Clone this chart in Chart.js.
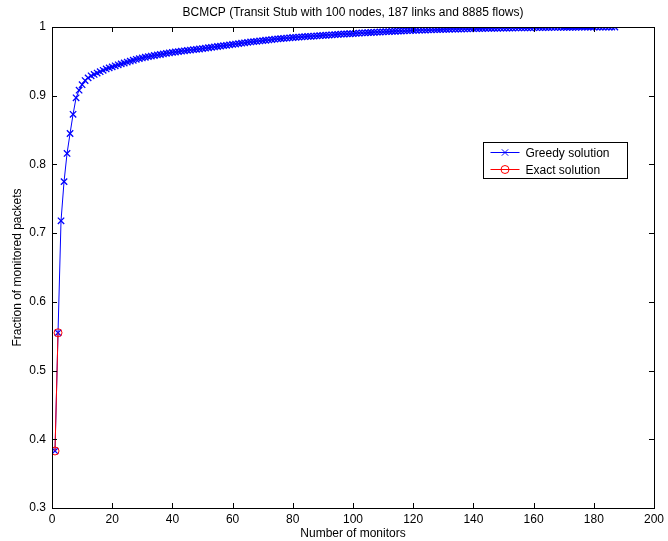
<!DOCTYPE html>
<html>
<head>
<meta charset="utf-8">
<script src="https://cdn.jsdelivr.net/npm/chart.js@4.4.1/dist/chart.umd.min.js"></script>
<style>
  html, body { margin: 0; padding: 0; background: #fff; }
  #wrap { width: 668px; height: 541px; }
</style>
</head>
<body>
<div id="wrap"><canvas id="c" width="668" height="541"></canvas></div>
<script>
// Data (sumbu x = jumlah monitor)
const greedyY = [
  0.383, 0.555, 0.718, 0.775, 0.816, 0.845, 0.873, 0.897, 0.908, 0.916,
  0.922, 0.926, 0.929, 0.931, 0.933, 0.935, 0.937, 0.939, 0.9405, 0.942,
  0.9435, 0.945, 0.9463, 0.9476, 0.949, 0.9503, 0.9516, 0.953, 0.954, 0.955,
  0.956, 0.9568, 0.9577, 0.9585, 0.9593, 0.960, 0.9608, 0.9616, 0.9623, 0.963,
  0.9636, 0.9642, 0.9648, 0.9654, 0.966, 0.9665, 0.967, 0.9675, 0.968, 0.9686,
  0.9692, 0.9698, 0.9704, 0.971, 0.9716, 0.9722, 0.9728, 0.9734, 0.974, 0.9746,
  0.9752, 0.9758, 0.9764, 0.977, 0.9776, 0.9782, 0.9787, 0.9792, 0.9797, 0.9802,
  0.9807, 0.9812, 0.9817, 0.9822, 0.9827, 0.9831, 0.9835, 0.9839, 0.9843, 0.9847,
  0.985, 0.9853, 0.9856, 0.9859, 0.9862, 0.9865, 0.9868, 0.9871, 0.9874, 0.9877,
  0.988, 0.9883, 0.9886, 0.9889, 0.9892, 0.9895, 0.9898, 0.990, 0.9902, 0.9905,
  0.9908, 0.991, 0.9913, 0.9915, 0.9918, 0.992, 0.9923, 0.9925, 0.9927, 0.993,
  0.9932, 0.9934, 0.9936, 0.9938, 0.994, 0.9942, 0.9944, 0.9946, 0.9948, 0.995,
  0.9952, 0.9953, 0.9955, 0.9956, 0.9958, 0.9959, 0.9961, 0.9962, 0.9963, 0.9965,
  0.9966, 0.9967, 0.9968, 0.9969, 0.997, 0.9971, 0.9972, 0.9973, 0.9974, 0.9975,
  0.9976, 0.9977, 0.9978, 0.9979, 0.998, 0.998, 0.9981, 0.9982, 0.9983, 0.9983,
  0.9984, 0.9985, 0.9985, 0.9986, 0.9987, 0.9987, 0.9988, 0.9988, 0.9989, 0.999,
  0.999, 0.9991, 0.9991, 0.9992, 0.9992, 0.9993, 0.9993, 0.9994, 0.9994, 0.9995,
  0.9995, 0.9996, 0.9996, 0.9996, 0.9997, 0.9997, 0.9997, 0.9998, 0.9998, 0.9998,
  0.9999, 0.9999, 0.9999, 1.0, 1.0, 1.0, 1.0
];
const greedyX = greedyY.map((_, i) => i + 1);
const exactX = [1, 2];
const exactY = [0.383, 0.555];

const xTicks = [0, 20, 40, 60, 80, 100, 120, 140, 160, 180, 200];
const yTicks = [0.3, 0.4, 0.5, 0.6, 0.7, 0.8, 0.9, 1];

const FONT = { family: '"Liberation Sans", Arial, Helvetica, sans-serif', size: 12 };
const BLUE = '#0000ff', RED = '#ff0000';

const toPts = (xs, ys) => xs.map((x, i) => ({ x, y: ys[i] }));

// Bingkai + tick ke dalam ala MATLAB, plus legenda
const framePlugin = {
  id: 'frame',
  afterDraw(chart) {
    const { ctx, chartArea: a, scales: { x, y } } = chart;
    ctx.save();
    ctx.strokeStyle = '#000';
    ctx.lineWidth = 1;
    ctx.strokeRect(Math.round(a.left) + 0.5, Math.round(a.top) + 0.5,
      Math.round(a.right - a.left), Math.round(a.bottom - a.top));
    const L = 5;
    ctx.beginPath();
    xTicks.forEach(v => {
      const px = Math.round(x.getPixelForValue(v)) + 0.5;
      ctx.moveTo(px, a.bottom); ctx.lineTo(px, a.bottom - L);
      ctx.moveTo(px, a.top); ctx.lineTo(px, a.top + L);
    });
    yTicks.forEach(v => {
      const py = Math.round(y.getPixelForValue(v)) + 0.5;
      ctx.moveTo(a.left, py); ctx.lineTo(a.left + L, py);
      ctx.moveTo(a.right, py); ctx.lineTo(a.right - L, py);
    });
    ctx.stroke();

    // Legenda
    const bx = 483.5, by = 142.5, bw = 144, bh = 36;
    ctx.fillStyle = '#fff';
    ctx.fillRect(bx, by, bw, bh);
    ctx.strokeRect(bx, by, bw, bh);
    const rows = [
      { label: 'Greedy solution', color: BLUE, style: 'crossRot', r: 4.5, y: by + 10 },
      { label: 'Exact solution', color: RED, style: 'circle', r: 4, y: by + 27 }
    ];
    ctx.font = `${FONT.size}px ${FONT.family}`;
    ctx.textBaseline = 'middle';
    rows.forEach(row => {
      ctx.strokeStyle = row.color;
      ctx.lineWidth = 1;
      ctx.beginPath();
      ctx.moveTo(bx + 7, row.y); ctx.lineTo(bx + 36, row.y);
      ctx.stroke();
      ctx.fillStyle = 'rgba(0,0,0,0)';
      Chart.helpers.drawPoint(ctx, { pointStyle: row.style, radius: row.r, borderWidth: 1 }, bx + 21.5, row.y);
      ctx.fillStyle = '#000';
      ctx.fillText(row.label, bx + 42, row.y + 1);
    });
    ctx.restore();
  }
};

new Chart(document.getElementById('c').getContext('2d'), {
  type: 'line',
  data: {
    datasets: [
      {
        label: 'Greedy solution',
        data: toPts(greedyX, greedyY),
        order: 1,
        borderColor: BLUE,
        backgroundColor: 'transparent',
        borderWidth: 1,
        pointStyle: 'crossRot',
        pointRadius: 4.5,
        pointBorderColor: BLUE,
        pointBorderWidth: 1.3,
        tension: 0
      },
      {
        label: 'Exact solution',
        data: toPts(exactX, exactY),
        order: 0,
        borderColor: RED,
        backgroundColor: 'transparent',
        borderWidth: 1,
        pointStyle: 'circle',
        pointRadius: 4,
        pointBorderColor: RED,
        pointBackgroundColor: 'transparent',
        pointBorderWidth: 1,
        tension: 0
      }
    ]
  },
  options: {
    responsive: false,
    animation: false,
    devicePixelRatio: 1,
    layout: { padding: { left: 0, right: 13, top: 0, bottom: 0 } },
    plugins: {
      legend: { display: false },
      tooltip: { enabled: false },
      title: {
        display: true,
        fullSize: false,
        text: 'BCMCP (Transit Stub with 100 nodes, 187 links and 8885 flows)',
        color: '#000',
        font: { ...FONT, weight: 'normal' },
        padding: { top: 5, bottom: 7.6 }
      }
    },
    scales: {
      x: {
        type: 'linear',
        min: 0, max: 200,
        afterBuildTicks: s => { s.ticks = xTicks.map(v => ({ value: v })); },
        afterFit: s => { s.height = 33; },
        grid: { display: false, drawTicks: false },
        border: { display: false },
        ticks: { color: '#000', font: FONT, padding: 4, maxRotation: 0 },
        title: { display: true, text: 'Number of monitors', color: '#000', font: FONT, padding: { top: 0, bottom: 0 } }
      },
      y: {
        type: 'linear',
        min: 0.3, max: 1,
        afterBuildTicks: s => { s.ticks = yTicks.map(v => ({ value: v })); },
        afterFit: s => { s.width = 52; },
        grid: { display: false, drawTicks: false },
        border: { display: false },
        ticks: { color: '#000', font: FONT, padding: 6, callback: v => String(+v.toFixed(1)) },
        title: { display: true, text: 'Fraction of monitored packets', color: '#000', font: FONT, padding: { top: 10, bottom: 0 } }
      }
    }
  },
  plugins: [framePlugin]
});
</script>
</body>
</html>
